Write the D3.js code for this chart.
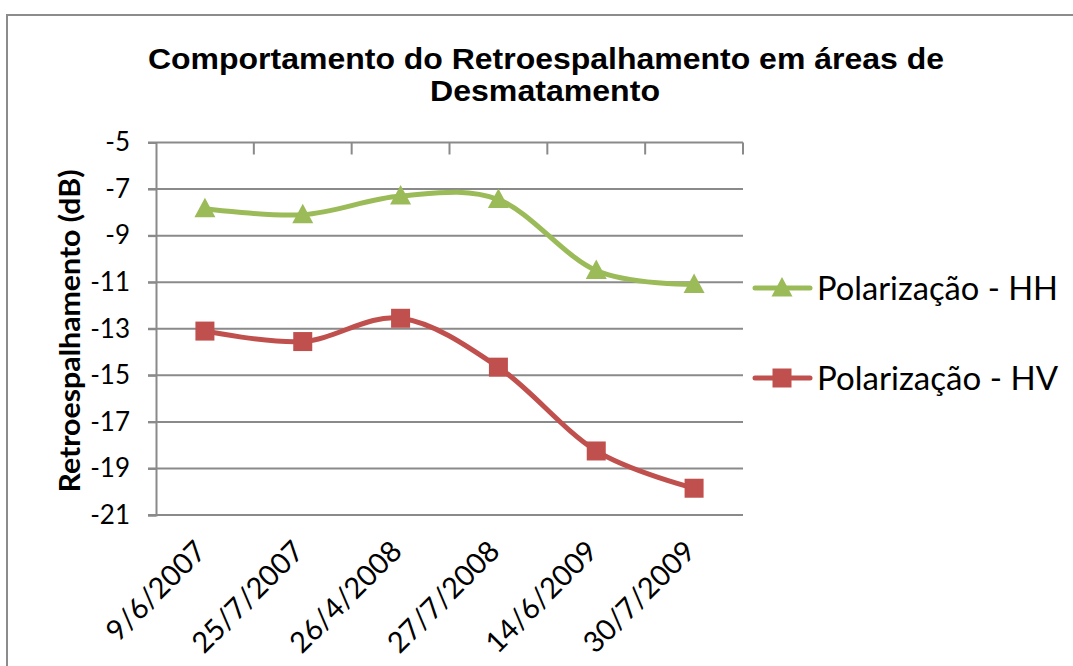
<!DOCTYPE html>
<html>
<head>
<meta charset="utf-8">
<script src="https://cdn.jsdelivr.net/npm/d3@7"></script>
<style>
  html, body { margin: 0; padding: 0; background: #fff; }
  svg { display: block; }
</style>
</head>
<body>
<script>
// chart data
var dates = ["9/6/2007", "25/7/2007", "26/4/2008", "27/7/2008", "14/6/2009", "30/7/2009"];
var hh = [-7.85, -8.1, -7.3, -7.45, -10.5, -11.1];
var hv = [-13.1, -13.55, -12.55, -14.65, -18.25, -19.85];
var yTicks = [-5, -7, -9, -11, -13, -15, -17, -19, -21];
var seriesNames = ["Polarização - HH", "Polarização - HV"];

var W = 1073, H = 666;
var green = "#9bbb59", red = "#c0504d", grid = "#8a8a8a";
var sans = "Lato, 'Open Sans', sans-serif";

var svg = d3.select("body").append("svg")
  .attr("width", W)
  .attr("height", H)
  .attr("xmlns", "http://www.w3.org/2000/svg");

// outer frame (only top + left edges show in the crop)
svg.append("path")
  .attr("d", "M7,666 L7,15 L1073,15")
  .attr("fill", "none")
  .attr("stroke", "#8c8c8c")
  .attr("stroke-width", 2);

// title
var title = svg.append("g")
  .attr("font-family", "'Liberation Sans', Arial, sans-serif")
  .attr("font-weight", "bold")
  .attr("font-size", 29)
  .attr("text-anchor", "middle");
title.append("text").attr("x", 546).attr("y", 69)
  .attr("textLength", 796).attr("lengthAdjust", "spacingAndGlyphs")
  .text("Comportamento do Retroespalhamento em áreas de");
title.append("text").attr("x", 545).attr("y", 101)
  .attr("textLength", 230).attr("lengthAdjust", "spacingAndGlyphs")
  .text("Desmatamento");

// scales
var x = d3.scaleBand().domain(dates).range([156, 743]).paddingInner(0).paddingOuter(0);
var y = d3.scaleLinear().domain([-21, -5]).range([515, 142.5]);
var cx = function(d) { return x(d) + x.bandwidth() / 2; };

// gridlines
svg.append("g")
  .selectAll("line")
  .data(yTicks)
  .enter().append("line")
  .attr("x1", 148).attr("x2", 743)
  .attr("y1", function(d) { return y(d); })
  .attr("y2", function(d) { return y(d); })
  .attr("stroke", grid)
  .attr("stroke-width", 2);

// y axis
var yAxis = svg.append("g")
  .attr("transform", "translate(156,0)")
  .call(d3.axisLeft(y).tickValues(yTicks).tickSize(8).tickPadding(18).tickFormat(d3.format("d")));
yAxis.select(".domain").attr("stroke", grid).attr("stroke-width", 2);
yAxis.selectAll(".tick line").attr("stroke", grid).attr("stroke-width", 2);
yAxis.selectAll("text")
  .attr("font-family", sans)
  .attr("font-size", 26)
  .attr("fill", "#000")
  .text(function(d) { return String(d).replace("−", "-"); });

// x category ticks hang down from the top gridline
svg.append("g")
  .selectAll("line")
  .data(dates)
  .enter().append("line")
  .attr("x1", function(d) { return x(d) + x.bandwidth(); })
  .attr("x2", function(d) { return x(d) + x.bandwidth(); })
  .attr("y1", y(-5)).attr("y2", y(-5) + 12)
  .attr("stroke", grid)
  .attr("stroke-width", 2);

// x labels, rotated
svg.append("g")
  .selectAll("text")
  .data(dates)
  .enter().append("text")
  .attr("transform", function(d) { return "translate(" + (cx(d) + 3) + ",553)rotate(-45)"; })
  .attr("text-anchor", "end")
  .attr("font-family", sans)
  .attr("font-size", 29)
  .attr("fill", "#000")
  .text(function(d) { return d; });

// y title
svg.append("text")
  .attr("transform", "translate(80,331)rotate(-90)")
  .attr("text-anchor", "middle")
  .attr("font-family", sans)
  .attr("font-weight", "bold")
  .attr("font-size", 29)
  .attr("textLength", 323).attr("lengthAdjust", "spacingAndGlyphs")
  .text("Retroespalhamento (dB)");

// series lines
var line = d3.line()
  .x(function(d, i) { return cx(dates[i]); })
  .y(function(d) { return y(d); })
  .curve(d3.curveCardinal.tension(0));

function triangle(g, px, py) {
  g.append("path")
    .attr("d", "M" + px + "," + (py - 11) + "L" + (px + 10.5) + "," + (py + 8.5) + "L" + (px - 10.5) + "," + (py + 8.5) + "Z")
    .attr("fill", green);
}
function square(g, px, py) {
  g.append("rect")
    .attr("x", px - 9.5).attr("y", py - 9.5)
    .attr("width", 19).attr("height", 19)
    .attr("fill", red);
}

var sHH = svg.append("g");
sHH.append("path").attr("d", line(hh))
  .attr("fill", "none").attr("stroke", green).attr("stroke-width", 5).attr("stroke-linecap", "round");
hh.forEach(function(v, i) { triangle(sHH, cx(dates[i]), y(v)); });

var sHV = svg.append("g");
sHV.append("path").attr("d", line(hv))
  .attr("fill", "none").attr("stroke", red).attr("stroke-width", 5).attr("stroke-linecap", "round");
hv.forEach(function(v, i) { square(sHV, cx(dates[i]), y(v)); });

// legend
var legY = [288, 378];
var legColors = [green, red];
seriesNames.forEach(function(name, i) {
  var g = svg.append("g");
  g.append("line")
    .attr("x1", 755).attr("x2", 810)
    .attr("y1", legY[i]).attr("y2", legY[i])
    .attr("stroke", legColors[i]).attr("stroke-width", 5).attr("stroke-linecap", "round");
  if (i === 0) triangle(g, 782, legY[i]); else square(g, 782, legY[i]);
  g.append("text")
    .attr("x", 817).attr("y", legY[i] + 12)
    .attr("font-family", sans)
    .attr("font-size", 33)
    .attr("textLength", 241).attr("lengthAdjust", "spacingAndGlyphs")
    .attr("fill", "#000")
    .text(name);
});
</script>
</body>
</html>
